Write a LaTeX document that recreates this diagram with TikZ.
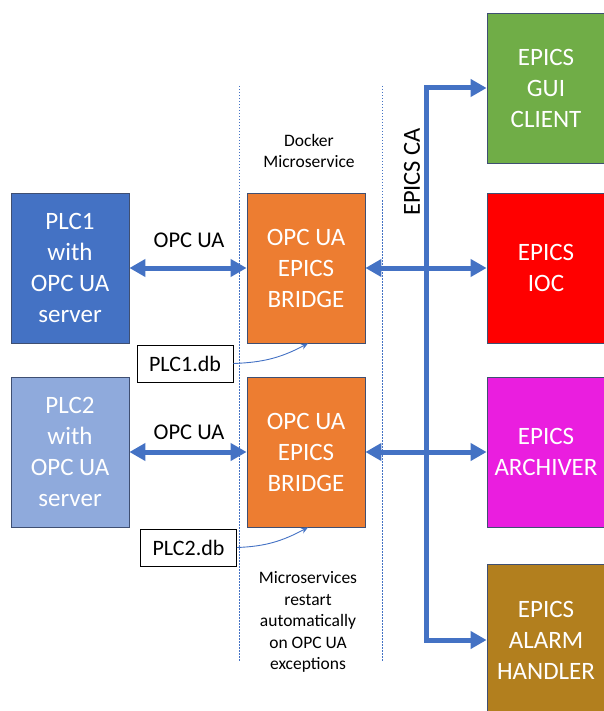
\documentclass[tikz,border=0pt]{standalone}
\usepackage{fontspec}
\setmainfont{Carlito}
\usetikzlibrary{arrows.meta}
\definecolor{plcA}{HTML}{4472C4}
\definecolor{plcB}{HTML}{8FAADC}
\definecolor{bridgec}{HTML}{ED7D31}
\definecolor{guic}{HTML}{70AD47}
\definecolor{iocc}{HTML}{FF0000}
\definecolor{archc}{HTML}{EA1EDF}
\definecolor{alarmc}{HTML}{B27F1E}
\definecolor{edgec}{HTML}{3F4F72}
\definecolor{linkc}{HTML}{4472C4}
\begin{document}
\begin{tikzpicture}[x=1pt,y=-1pt,
  bigbox/.style={draw=edgec, line width=0.8pt, minimum width=118pt, minimum height=150pt,
    inner sep=0pt, align=center, text=white, font=\fontsize{25}{31}\selectfont},
  dbbox/.style={draw=black, line width=0.8pt, fill=white, minimum width=96pt, minimum height=37pt,
    inner sep=0pt, font=\fontsize{22}{25}\selectfont},
  lbl/.style={font=\fontsize{22.5}{25}\selectfont, inner sep=0pt},
  note/.style={font=\fontsize{17.5}{21.5}\selectfont, align=center, inner sep=0pt},
  fat/.style={draw=linkc, line width=5pt, line join=miter,
    {Triangle[length=16pt,width=17pt]}-{Triangle[length=16pt,width=17pt]}},
  thin/.style={draw=linkc, line width=0.9pt, -{Stealth[length=7pt,width=6pt]}},
  sep/.style={draw=linkc, line width=0.7pt, dash pattern=on 1.5pt off 1.5pt}
]
\useasboundingbox (0,0) rectangle (603,711);

% separators
\coordinate (s1t) at (239,86);
\coordinate (s1b) at (239,662);
\coordinate (s2t) at (382,86);
\coordinate (s2b) at (382,662);
\draw[sep] (s1t) -- (s1b);
\draw[sep] (s2t) -- (s2b);

% left boxes
\node[bigbox, fill=plcA] (plc1) at (70,268) {PLC1\\with\\OPC UA\\server};
\node[bigbox, fill=plcB] (plc2) at (70,452) {PLC2\\with\\OPC UA\\server};

% bridges
\node[bigbox, fill=bridgec] (br1) at (306,268) {OPC UA\\EPICS\\BRIDGE};
\node[bigbox, fill=bridgec] (br2) at (306,452) {OPC UA\\EPICS\\BRIDGE};

% right boxes
\node[bigbox, fill=guic] (gui) at (546,88) {EPICS\\GUI\\CLIENT};
\node[bigbox, fill=iocc] (ioc) at (546,268) {EPICS\\IOC};
\node[bigbox, fill=archc] (arch) at (546,452) {EPICS\\ARCHIVER};
\node[bigbox, fill=alarmc, minimum height=152pt] (alarm) at (546,640) {EPICS\\ALARM\\HANDLER};

% db boxes
\node[dbbox] (db1) at (185,363.5) {PLC1.db};
\node[dbbox] (db2) at (188.5,547.5) {PLC2.db};

% labels
\node[lbl] (l1) at (189,240) {OPC UA};
\node[lbl] (l2) at (189,432) {OPC UA};
\node[note] (dock) at (309,151) {Docker\\Microservice};
\node[note] (restart) at (308,622) {Microservices\\restart\\automatically\\on OPC UA\\exceptions};
\node[lbl, rotate=90, font=\fontsize{24.5}{28}\selectfont] (ca) at (412,172) {EPICS CA};

% OPC UA links
\draw[fat] (plc1.east) -- (br1.west);
\draw[fat] (plc2.east) -- (br2.west);

% EPICS CA bus
\coordinate (busx) at (426,0);
\draw[fat] (gui.west) -- (gui.west -| busx) -- (alarm.west -| busx) -- (alarm.west);
\draw[fat] (br1.east) -- (ioc.west);
\draw[fat] (br2.east) -- (arch.west);

% db links
\draw[thin] (db1.east) to[out=2, in=-152] ([xshift=2pt]br1.south);
\draw[thin] (db2.east) to[out=2, in=-152] ([xshift=2pt]br2.south);
\end{tikzpicture}
\end{document}
